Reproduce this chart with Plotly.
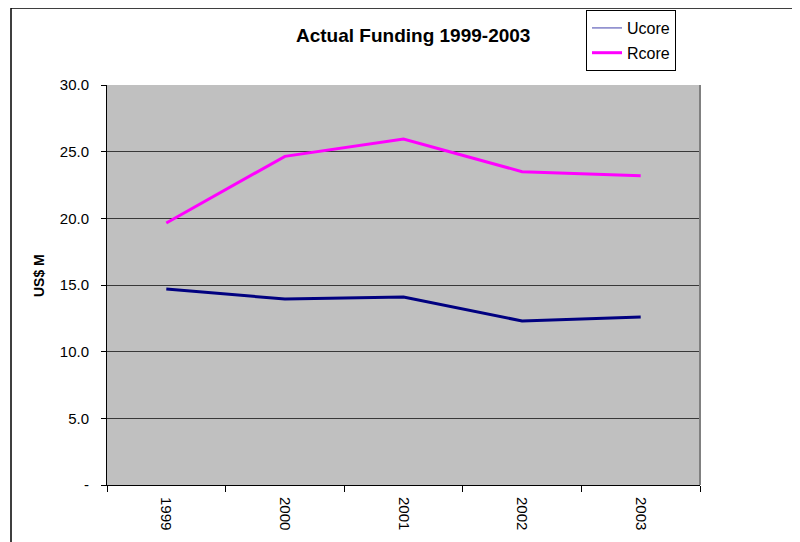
import plotly.graph_objects as go

years = ["1999", "2000", "2001", "2002", "2003"]
ucore = [14.7, 13.95, 14.1, 12.3, 12.6]
rcore = [19.65, 24.65, 25.95, 23.5, 23.2]
ytick_vals = [0, 5, 10, 15, 20, 25, 30]
ytick_text = ["-", "5.0", "10.0", "15.0", "20.0", "25.0", "30.0"]

# the page places the figure at an 8px offset; positions below are page pixels
OFF = 8
W, H = 800, 542
L, R, T, B = 107 - OFF, 800 - 700 + OFF, 85 - OFF, 542 - 485 + OFF
pw, ph = W - L - R, H - T - B

def px(x):
    return (x - OFF - L) / pw

def py(y):
    return (H - B - (y - OFF)) / ph

fig = go.Figure()
fig.add_trace(go.Scatter(x=years, y=ucore, mode="lines", name="Ucore",
                         showlegend=False, line=dict(color="#000080", width=3)))
fig.add_trace(go.Scatter(x=years, y=rcore, mode="lines", name="Rcore",
                         showlegend=False, line=dict(color="#FF00FF", width=3)))
# legend swatches
fig.add_trace(go.Scatter(x=[None], y=[None], mode="lines", name="Ucore",
                         legendgroup="u", line=dict(color="#8080C8", width=1.5)))
fig.add_trace(go.Scatter(x=[None], y=[None], mode="lines", name="Rcore",
                         legendgroup="r", line=dict(color="#FF00FF", width=3)))

font = "Liberation Sans, Arial, sans-serif"
fig.update_layout(
    width=W, height=H,
    margin=dict(l=L, r=R, t=T, b=B, autoexpand=False),
    paper_bgcolor="white",
    plot_bgcolor="#C0C0C0",
    font=dict(family=font, size=14, color="black"),
    showlegend=True,
    legend=dict(x=px(586), y=py(10), xanchor="left", yanchor="top",
                bgcolor="white", bordercolor="black", borderwidth=1,
                font=dict(size=16, family=font), tracegroupgap=1,
                itemwidth=30),
    xaxis=dict(type="category", showgrid=False, showline=True,
               linecolor="black", linewidth=1, ticks="outside",
               tickson="boundaries", ticklen=6, tickcolor="black",
               tickangle=90, tickfont=dict(size=15), zeroline=False,
               ticklabelstandoff=8, range=[-0.5, 4.5]),
    yaxis=dict(range=[0, 30], tickvals=ytick_vals, ticktext=ytick_text,
               showgrid=True, gridcolor="#383838", gridwidth=1,
               showline=True, linecolor="black", linewidth=1,
               ticks="outside", ticklen=5, tickcolor="black",
               zeroline=False, tickfont=dict(size=15), ticklabelstandoff=9),
    annotations=[
        dict(text="<b>Actual Funding 1999-2003</b>", x=px(413), y=py(36),
             xref="paper", yref="paper", showarrow=False,
             font=dict(size=19, family=font), xanchor="center", yanchor="middle"),
        dict(text="<b>US$ M</b>", x=px(39), y=py(276), textangle=-90,
             xref="paper", yref="paper", showarrow=False,
             font=dict(size=14, family=font), xanchor="center", yanchor="middle"),
    ],
    shapes=[
        dict(type="rect", xref="paper", yref="paper", x0=px(11), x1=px(830),
             y0=py(570), y1=py(8), line=dict(color="black", width=1.5),
             fillcolor="rgba(0,0,0,0)", layer="below"),
        dict(type="line", xref="paper", yref="paper", x0=1, x1=1, y0=0, y1=1,
             line=dict(color="#808080", width=2)),
    ],
)

fig.write_html("out.html")
